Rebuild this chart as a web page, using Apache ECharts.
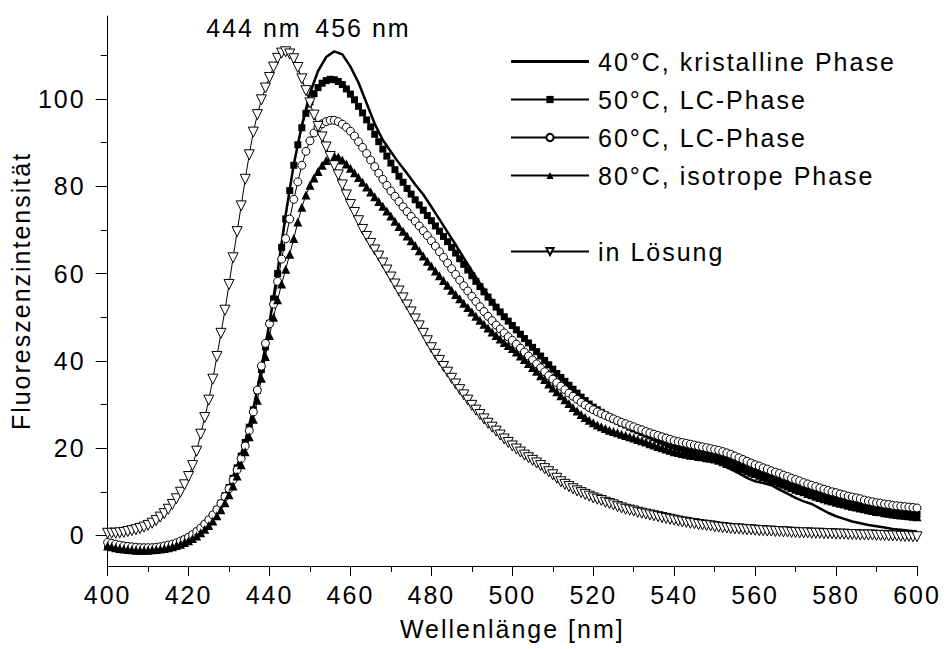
<!DOCTYPE html>
<html><head><meta charset="utf-8">
<script src="https://cdn.jsdelivr.net/npm/echarts@6/dist/echarts.min.js"></script>
<style>
html,body{margin:0;padding:0;background:#fff}
#c{width:947px;height:649px}
#c svg text{letter-spacing:2px}
</style>
</head><body><div id="c"></div>
<script>
// ---- data ----
const names = ['40°C, kristalline Phase', '50°C, LC-Phase', '60°C, LC-Phase', '80°C, isotrope Phase', 'in Lösung'];
const peakLabels = ['444 nm', '456 nm'];
const xTicks = [400, 420, 440, 460, 480, 500, 520, 540, 560, 580, 600];
const yTickLabels = [0, 20, 40, 60, 80, 100];
const yMinorTicks = [10, 30, 50, 70, 90, 110];

// 40°C curve: 400..600 nm, 2 nm step
const start40 = 400, step40 = 2;
const y40 = [
 -1.8,-2.1,-2.4,-2.7,-2.9,-2.9,-2.8,-2.5,-2.0,-1.3,
 -0.3,1.0,2.7,4.8,7.6,11.2,15.8,21.6,29.0,38.2,
 48.8,60.5,73.5,85.0,94.0,101.3,106.4,109.6,110.9,110.2,
 107.4,103.7,99.0,94.3,90.6,87.9,85.3,82.9,80.4,78.1,
 75.3,72.4,69.5,66.6,63.6,60.6,57.8,55.1,52.6,50.2,
 48.2,46.2,44.1,42.1,40.1,38.1,36.3,34.5,32.7,31.0,
 29.5,28.3,27.2,26.2,25.3,24.4,23.6,22.8,22.0,21.2,
 20.5,19.9,19.3,18.6,17.9,17.0,16.1,15.2,14.2,13.2,
 12.4,12.0,11.5,10.5,9.6,8.6,7.8,7.2,6.2,5.2,
 4.4,3.8,3.2,2.8,2.4,2.1,1.8,1.5,1.3,1.1,
 0.9
];

// marker curves: 400..600 nm, 1 nm step
const startM = 400, stepM = 1;
const y50 = [
 -2.2,-2.4,-2.6,-2.8,-2.9,-3.0,-3.1,-3.2,-3.2,-3.2,
 -3.2,-3.1,-3.0,-2.9,-2.7,-2.5,-2.2,-1.9,-1.5,-1.0,
 -0.5,0.1,0.8,1.6,2.5,3.5,4.6,5.9,7.4,9.1,
 11.0,13.1,15.5,18.2,21.3,24.8,28.8,33.2,38.0,43.2,
 48.6,54.2,60.0,66.0,72.5,79.0,84.8,89.5,93.4,96.7,
 99.3,101.2,102.6,103.6,104.2,104.5,104.4,104.0,103.3,102.3,
 101.1,99.8,98.3,96.8,95.2,93.6,91.9,90.2,88.5,86.9,
 85.3,83.8,82.3,80.9,79.5,78.2,76.9,75.7,74.5,73.3,
 72.1,70.9,69.7,68.5,67.3,66.0,64.7,63.4,62.1,60.8,
 59.5,58.2,57.0,55.8,54.6,53.4,52.3,51.2,50.1,49.1,
 48.1,47.1,46.1,45.1,44.1,43.1,42.1,41.1,40.1,39.1,
 38.1,37.1,36.2,35.3,34.4,33.5,32.6,31.7,30.9,30.1,
 29.4,28.8,28.2,27.6,27.1,26.6,26.2,25.7,25.3,24.8,
 24.4,24.0,23.6,23.2,22.8,22.4,22.0,21.6,21.2,20.8,
 20.5,20.2,20.0,19.7,19.5,19.3,19.1,18.9,18.7,18.5,
 18.3,18.0,17.7,17.3,16.9,16.5,16.1,15.7,15.3,14.9,
 14.6,14.2,13.9,13.5,13.2,12.8,12.5,12.1,11.8,11.4,
 11.1,10.8,10.4,10.1,9.8,9.5,9.2,8.9,8.6,8.4,
 8.1,7.9,7.6,7.4,7.2,7.0,6.8,6.6,6.4,6.2,
 6.0,5.9,5.7,5.6,5.5,5.3,5.2,5.1,5.0,4.9,
 4.8
];
const y60 = [
 -1.6,-1.8,-2.0,-2.2,-2.4,-2.5,-2.6,-2.7,-2.8,-2.8,
 -2.8,-2.8,-2.7,-2.6,-2.4,-2.2,-2.0,-1.7,-1.3,-0.9,
 -0.4,0.2,0.9,1.7,2.6,3.6,4.7,5.9,7.3,8.9,
 10.7,12.7,15.0,17.6,20.5,24.0,28.3,33.3,38.8,44.0,
 48.5,53.0,58.2,63.3,68.0,72.5,77.0,81.0,84.8,88.0,
 90.4,92.2,93.5,94.3,94.8,95.1,95.1,94.8,94.2,93.5,
 92.6,91.5,90.2,88.9,87.5,86.0,84.5,83.0,81.6,80.2,
 78.9,77.7,76.5,75.3,74.2,73.1,72.0,70.9,69.8,68.7,
 67.5,66.3,65.0,63.7,62.4,61.1,59.8,58.5,57.2,56.0,
 54.8,53.6,52.4,51.3,50.2,49.2,48.2,47.3,46.4,45.5,
 44.7,43.8,42.9,42.0,41.1,40.2,39.3,38.4,37.5,36.6,
 35.8,35.0,34.2,33.4,32.6,31.9,31.2,30.5,29.9,29.3,
 28.8,28.3,27.9,27.5,27.1,26.7,26.3,25.9,25.6,25.2,
 24.9,24.5,24.2,23.8,23.5,23.2,22.9,22.6,22.3,22.0,
 21.7,21.5,21.3,21.1,20.9,20.7,20.5,20.3,20.1,19.9,
 19.7,19.5,19.2,18.9,18.6,18.2,17.8,17.4,17.0,16.6,
 16.2,15.9,15.5,15.2,14.8,14.5,14.2,13.8,13.5,13.1,
 12.8,12.5,12.1,11.8,11.5,11.2,10.9,10.6,10.3,10.0,
 9.8,9.5,9.3,9.0,8.8,8.6,8.4,8.1,7.9,7.7,
 7.5,7.4,7.2,7.1,6.9,6.8,6.7,6.6,6.5,6.4,
 6.3
];
const y80 = [
 -2.4,-2.6,-2.8,-3.0,-3.1,-3.2,-3.3,-3.4,-3.4,-3.4,
 -3.4,-3.3,-3.2,-3.1,-3.0,-2.8,-2.6,-2.3,-2.0,-1.6,
 -1.2,-0.7,-0.1,0.6,1.4,2.3,3.3,4.5,5.9,7.5,
 9.3,11.3,13.6,16.2,19.2,22.6,26.6,31.0,36.0,41.0,
 45.8,50.0,54.0,57.6,61.0,64.4,68.0,71.8,75.2,78.0,
 80.2,81.9,83.4,84.8,85.9,86.7,87.0,86.7,86.0,85.1,
 84.1,83.1,82.0,80.9,79.8,78.7,77.6,76.5,75.4,74.3,
 73.2,72.0,70.8,69.7,68.6,67.5,66.4,65.2,64.0,62.8,
 61.7,60.6,59.5,58.4,57.3,56.2,55.2,54.2,53.2,52.2,
 51.2,50.2,49.3,48.4,47.5,46.6,45.8,45.0,44.2,43.5,
 42.8,42.0,41.1,40.3,39.4,38.5,37.6,36.6,35.7,34.7,
 33.8,32.9,32.0,31.1,30.2,29.3,28.5,27.7,27.0,26.4,
 25.8,25.3,24.9,24.5,24.1,23.8,23.5,23.2,22.9,22.6,
 22.3,22.0,21.7,21.4,21.0,20.7,20.4,20.1,19.8,19.5,
 19.2,19.0,18.8,18.6,18.4,18.3,18.1,18.0,17.8,17.7,
 17.5,17.2,16.9,16.5,16.2,15.8,15.5,15.2,14.8,14.5,
 14.2,13.8,13.5,13.1,12.8,12.4,12.0,11.7,11.3,11.0,
 10.6,10.3,10.0,9.6,9.3,9.0,8.7,8.4,8.1,7.9,
 7.6,7.4,7.2,6.9,6.7,6.5,6.3,6.1,5.9,5.7,
 5.5,5.4,5.2,5.1,4.9,4.8,4.7,4.6,4.5,4.4,
 4.3
];
const ySol = [
 0.5,0.5,0.5,0.6,0.7,0.9,1.1,1.3,1.6,1.9,
 2.3,2.8,3.4,4.2,5.0,6.0,7.1,8.4,9.9,11.6,
 13.5,16.0,19.3,23.2,27.0,31.0,35.8,41.0,46.3,51.6,
 57.5,63.6,69.6,75.5,81.6,87.2,92.4,96.4,99.8,102.5,
 104.9,107.3,109.3,110.5,110.8,110.3,109.2,107.2,104.6,101.9,
 99.1,96.3,93.7,91.3,89.0,86.8,84.7,82.6,80.3,78.0,
 75.8,74.0,72.1,70.1,68.5,66.9,65.4,64.0,62.4,60.8,
 59.2,57.6,56.0,54.4,52.8,51.2,49.6,48.0,46.3,44.6,
 43.0,41.5,40.1,38.7,37.4,36.0,34.7,33.4,32.2,31.0,
 29.8,28.7,27.7,26.7,25.7,24.8,23.9,23.0,22.1,21.3,
 20.5,19.8,19.1,18.4,17.8,17.2,16.6,16.0,15.3,14.6,
 13.9,13.1,12.3,11.7,11.2,10.7,10.2,9.8,9.4,9.0,
 8.6,8.3,8.0,7.6,7.3,7.0,6.6,6.3,6.0,5.8,
 5.6,5.3,5.1,4.9,4.7,4.5,4.3,4.1,3.9,3.7,
 3.5,3.3,3.1,3.0,2.8,2.7,2.5,2.4,2.3,2.2,
 2.0,1.9,1.8,1.7,1.6,1.5,1.5,1.4,1.3,1.3,
 1.2,1.1,1.1,1.0,1.0,0.9,0.9,0.8,0.8,0.7,
 0.7,0.6,0.6,0.6,0.5,0.5,0.5,0.4,0.4,0.4,
 0.3,0.3,0.3,0.2,0.2,0.2,0.1,0.1,0.1,0.1,
 0.0,0.0,0.0,-0.1,-0.1,-0.1,-0.2,-0.2,-0.2,-0.3,
 -0.3
];

// ---- chart ----
const FONT = 'Liberation Sans, Arial, sans-serif';
const toPairs = (arr, s, st) => arr.map((v, i) => [s + i * st, v]);

const chart = echarts.init(document.getElementById('c'), null, {renderer: 'svg'});

const legendCommon = {
  orient: 'vertical', left: 510, padding: 0, itemWidth: 78, itemHeight: 9, itemGap: 13,
  selectedMode: false, symbolKeepAspect: true,
  textStyle: {fontSize: 25, fontFamily: FONT, color: '#000', padding: [0, 0, 0, 4]}
};

chart.setOption({
  animation: false,
  backgroundColor: '#fff',
  grid: {left: 104, right: 30, top: 16, bottom: 83, containLabel: false},
  legend: [
    Object.assign({}, legendCommon, {
      top: 49,
      data: [
        {name: names[0], icon: 'path://M0 0H78V3H0Z', itemStyle: {color: '#000'}},
        names[1], names[2], names[3]
      ]
    }),
    Object.assign({}, legendCommon, {top: 239, data: [names[4]]})
  ],
  graphic: [
    {type: 'text', x: 254, y: 28, style: {text: peakLabels[0], font: '25px ' + FONT, fill: '#000', align: 'center', verticalAlign: 'middle'}},
    {type: 'text', x: 363, y: 28, style: {text: peakLabels[1], font: '25px ' + FONT, fill: '#000', align: 'center', verticalAlign: 'middle'}}
  ],
  xAxis: {
    type: 'value', min: xTicks[0], max: xTicks[xTicks.length - 1], interval: 20,
    name: 'Wellenlänge [nm]', nameLocation: 'middle', nameGap: 50,
    nameTextStyle: {fontSize: 25, fontFamily: FONT, color: '#000'},
    axisLine: {show: true, onZero: false, lineStyle: {color: '#000', width: 1}},
    axisTick: {show: true, length: 10, lineStyle: {color: '#000', width: 1}},
    minorTick: {show: true, splitNumber: 2, length: 6, lineStyle: {color: '#000', width: 1}},
    axisLabel: {fontSize: 25, fontFamily: FONT, color: '#000', margin: 16},
    splitLine: {show: false}, minorSplitLine: {show: false}
  },
  yAxis: [
    {
      type: 'value', min: -7, max: 119, position: 'left',
      name: 'Fluoreszenzintensität', nameLocation: 'middle', nameGap: 66,
      nameTextStyle: {fontSize: 25, fontFamily: FONT, color: '#000'},
      axisLine: {show: true, onZero: false, lineStyle: {color: '#000', width: 1}},
      axisTick: {show: true, length: 12, customValues: yTickLabels, lineStyle: {color: '#000', width: 1}},
      axisLabel: {fontSize: 25, fontFamily: FONT, color: '#000', margin: 22, customValues: yTickLabels},
      splitLine: {show: false}
    },
    {
      type: 'value', min: -7, max: 119, position: 'left', offset: 0,
      axisLine: {show: false},
      axisTick: {show: true, length: 7, customValues: yMinorTicks, lineStyle: {color: '#000', width: 1}},
      axisLabel: {show: false},
      splitLine: {show: false}
    }
  ],
  series: [
    {
      name: names[0], type: 'line', data: toPairs(y40, start40, step40),
      symbol: 'none', lineStyle: {color: '#000', width: 2.5}, itemStyle: {color: '#000'}
    },
    {
      name: names[1], type: 'line', data: toPairs(y50, startM, stepM),
      symbol: 'rect', symbolSize: 7, showAllSymbol: true,
      itemStyle: {color: '#000'}, lineStyle: {color: '#000', width: 1}
    },
    {
      name: names[2], type: 'line', data: toPairs(y60, startM, stepM),
      symbol: 'circle', symbolSize: 8, showAllSymbol: true,
      itemStyle: {color: '#fff', borderColor: '#000', borderWidth: 1}, lineStyle: {color: '#000', width: 1}
    },
    {
      name: names[3], type: 'line', data: toPairs(y80, startM, stepM),
      symbol: 'triangle', symbolSize: 9, showAllSymbol: true,
      itemStyle: {color: '#000'}, lineStyle: {color: '#000', width: 1}
    },
    {
      name: names[4], type: 'line', data: toPairs(ySol, startM, stepM),
      symbol: 'triangle', symbolRotate: 180, symbolSize: 10, showAllSymbol: true,
      itemStyle: {color: '#fff', borderColor: '#000', borderWidth: 1}, lineStyle: {color: '#000', width: 1}
    }
  ]
});
</script>
</body></html>
